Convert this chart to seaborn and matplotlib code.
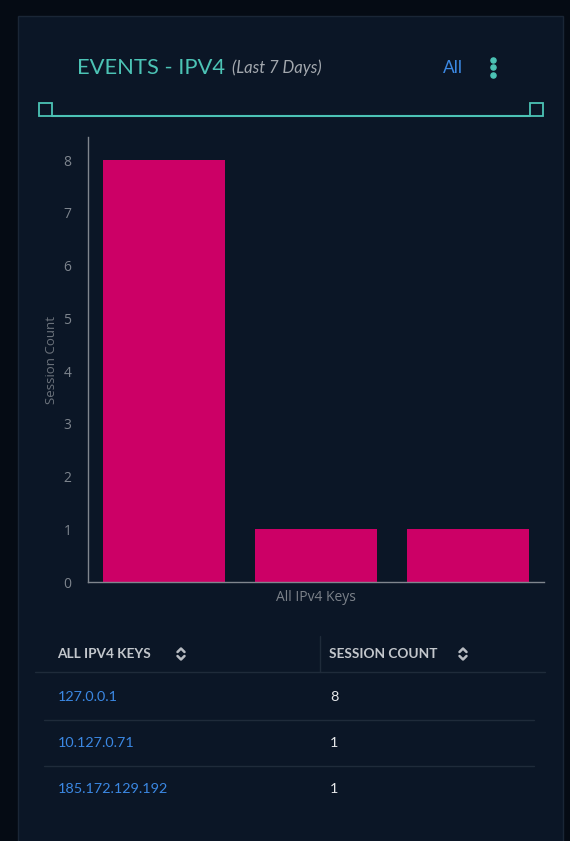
import matplotlib
matplotlib.use("Agg")
import matplotlib.pyplot as plt
import seaborn as sns
from matplotlib.patches import Rectangle
from matplotlib.lines import Line2D

# data
ip_keys = ["127.0.0.1", "10.127.0.71", "185.172.129.192"]
session_counts = [8, 1, 1]
y_ticks = [0, 1, 2, 3, 4, 5, 6, 7, 8]

title = "EVENTS - IPV4"
subtitle = "(Last 7 Days)"
col_headers = ["ALL IPV4 KEYS", "SESSION COUNT"]

# colours
outer_bg = "#050b14"
card_bg = "#0b1626"
teal = "#4cc3b5"
magenta = "#cc0066"
blue = "#3b88e3"
grey = "#7d848d"

sns.set_style("dark")
plt.rcParams["font.family"] = ["Open Sans", "DejaVu Sans"]

W, H = 570, 841
fig = plt.figure(figsize=(W / 100, H / 100), dpi=100, facecolor=outer_bg)


def fx(x):
    return x / W


def fy(y):
    return 1 - y / H


# card background
fig.add_artist(Rectangle((fx(18), fy(860)), fx(563) - fx(18), fy(16) - fy(860),
                         transform=fig.transFigure, facecolor=card_bg,
                         edgecolor="#1a2636", lw=1, zorder=0))

# header
fig.text(fx(77), fy(68), title, color=teal, fontsize=15.8, family="Lato", va="center")
fig.text(fx(232), fy(68), subtitle, color="#a3a8ae", fontsize=12, family="Lato",
         style="italic", va="center")
fig.text(fx(453), fy(68), "All", color=blue, fontsize=12.5, family="Lato",
         ha="center", va="center")
for yy in (59.5, 67, 74.5):
    fig.add_artist(Line2D([fx(493)], [fy(yy)], marker="o", ms=3.7, color=teal,
                          transform=fig.transFigure))

# range slider
fig.add_artist(Line2D([fx(52), fx(530)], [fy(116), fy(116)], color=teal, lw=1.5,
                      transform=fig.transFigure))
for x0 in (39, 530):
    fig.add_artist(Rectangle((fx(x0), fy(116)), fx(13), fy(103) - fy(116),
                             transform=fig.transFigure, facecolor=card_bg,
                             edgecolor=teal, lw=1.3))

# bar chart
ax = fig.add_axes([fx(88), fy(582), fx(544) - fx(88), fy(137) - fy(582)])
ax.set_facecolor(card_bg)
sns.barplot(x=ip_keys, y=session_counts, color=magenta, saturation=1, width=0.8,
            edgecolor="none", linewidth=0, ax=ax)
ax.set_xlim(-0.5, 2.5)
ax.set_ylim(0, 8.44)
ax.set_yticks(y_ticks)
ax.set_xticks([])
ax.grid(False)
ax.tick_params(axis="y", length=0, pad=12, labelcolor=grey, labelsize=10)
for side in ("top", "right"):
    ax.spines[side].set_visible(False)
for side in ("left", "bottom"):
    ax.spines[side].set_visible(True)
    ax.spines[side].set_color("#80868e")
    ax.spines[side].set_linewidth(1)
ax.set_ylabel("Session Count", color="#6b727b", fontsize=9.5, labelpad=4)
ax.set_xlabel("All IPv4 Keys", color="#7b8189", fontsize=10, labelpad=6)

# table
hdr_y = 654
fig.text(fx(57), fy(hdr_y), col_headers[0], color="#c3c7cc", fontsize=9.8,
         family="Lato", weight="bold", va="center")
fig.text(fx(329), fy(hdr_y), col_headers[1], color="#c3c7cc", fontsize=9.8,
         family="Lato", weight="bold", va="center")


def sort_icon(cx, cy):
    for sgn in (-1, 1):
        fig.add_artist(Line2D([fx(cx - 3.5), fx(cx), fx(cx + 3.5)],
                              [fy(cy + sgn * 2), fy(cy + sgn * 5.5), fy(cy + sgn * 2)],
                              color="#b8bcc2", lw=1.8, transform=fig.transFigure,
                              solid_capstyle="round"))


sort_icon(181, hdr_y)
sort_icon(463, hdr_y)
fig.add_artist(Line2D([fx(320), fx(320)], [fy(636), fy(672)], color="#1f2b3a", lw=1,
                      transform=fig.transFigure))
fig.add_artist(Line2D([fx(35), fx(545)], [fy(672), fy(672)], color="#1f2b3a", lw=1,
                      transform=fig.transFigure))

row_y = [697, 743, 789]
for i, (key, cnt) in enumerate(zip(ip_keys, session_counts)):
    fig.text(fx(58), fy(row_y[i]), key, color=blue, fontsize=10.4, family="Lato", va="center")
    fig.text(fx(330), fy(row_y[i]), str(cnt), color="#e6e8ea", fontsize=10.4,
             family="Lato", va="center")
    if i < len(ip_keys) - 1:
        ly = (row_y[i] + row_y[i + 1]) / 2
        fig.add_artist(Line2D([fx(44), fx(534)], [fy(ly), fy(ly)], color="#1f2b3a",
                              lw=1, transform=fig.transFigure))

fig.savefig("out.png", dpi=100, facecolor=outer_bg)
